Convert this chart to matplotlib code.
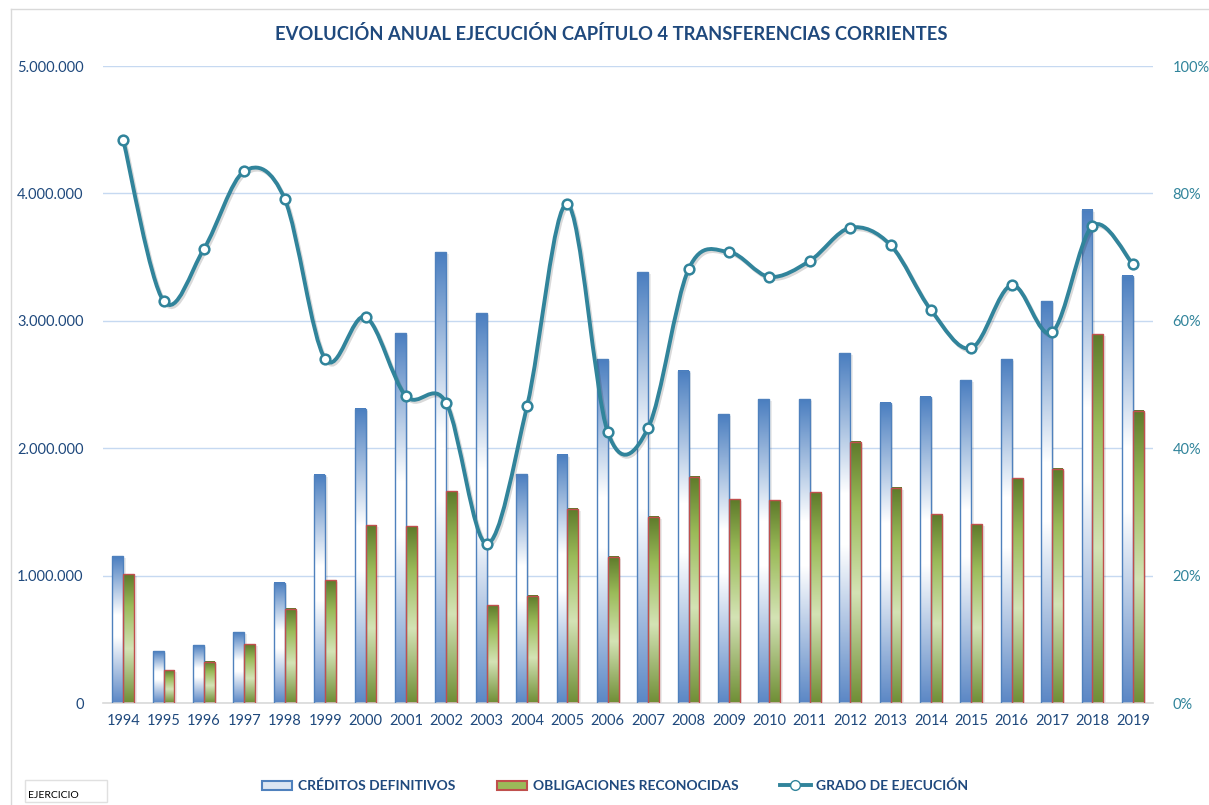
import numpy as np
import matplotlib
matplotlib.use("Agg")
import matplotlib.pyplot as plt
from matplotlib.colors import LinearSegmentedColormap
from matplotlib.path import Path
from matplotlib.patches import PathPatch, Rectangle, Patch
from matplotlib.lines import Line2D
from matplotlib.ticker import FuncFormatter, MultipleLocator
import matplotlib.patheffects as pe

plt.rcParams['font.family'] = ['Lato', 'DejaVu Sans']

years = [str(y) for y in range(1994, 2020)]
creditos = [1150000, 408000, 455000, 557000, 942000, 1790000, 2308000, 2904000,
            3540000, 3061000, 1797000, 1947000, 2700000, 3383000, 2606000, 2268000,
            2386000, 2386000, 2747000, 2355000, 2402000, 2535000, 2700000, 3155000,
            3870000, 3352000]
obligaciones = [1012000, 259000, 322000, 463000, 738000, 965000, 1397000, 1389000,
                1664000, 769000, 840000, 1523000, 1146000, 1460000, 1774000, 1601000,
                1593000, 1656000, 2049000, 1688000, 1483000, 1405000, 1766000, 1837000,
                2896000, 2292000]
grado = [0.884, 0.631, 0.713, 0.835, 0.791, 0.540, 0.606, 0.482, 0.471, 0.250,
         0.466, 0.783, 0.425, 0.432, 0.681, 0.708, 0.669, 0.694, 0.746, 0.719,
         0.617, 0.557, 0.656, 0.582, 0.749, 0.689]

title = "EVOLUCIÓN ANUAL EJECUCIÓN CAPÍTULO 4 TRANSFERENCIAS CORRIENTES"
labels = ["CRÉDITOS DEFINITIVOS", "OBLIGACIONES RECONOCIDAS", "GRADO DE EJECUCIÓN"]

W, H = 1209, 805
fig = plt.figure(figsize=(W / 100, H / 100), dpi=100)
fig.patch.set_facecolor('white')

ax = fig.add_axes([103 / W, 1 - 703 / H, (1153 - 103) / W, (703 - 66) / H])
ax.set_facecolor('none')

n = len(years)
x = np.arange(n)
bw = 0.27

blue_cmap = LinearSegmentedColormap.from_list(
    'b', [(0.0, '#5B87C5'), (0.45, '#FFFFFF'), (0.6, '#FFFFFF'), (1.0, '#4A7EC0')])
green_cmap = LinearSegmentedColormap.from_list(
    'g', [(0.0, '#6F8E35'), (0.42, '#D4E3B5'), (0.75, '#9BBB59'), (1.0, '#5E7A2A')])
grad = np.linspace(0, 1, 256).reshape(-1, 1)

for i in range(n):
    for val, off in ((creditos[i], -bw), (obligaciones[i], 0)):
        ax.add_patch(Rectangle((i + off + 0.06, 0), bw, val - 15000,
                               facecolor='#000000', alpha=0.08, edgecolor='none', zorder=1))
    x0 = i - bw
    ax.imshow(grad, extent=[x0, x0 + bw, 0, creditos[i]], origin='lower',
              cmap=blue_cmap, aspect='auto', zorder=2, interpolation='bilinear')
    ax.add_patch(Rectangle((x0, 0), bw, creditos[i], facecolor='none',
                           edgecolor='#4F81BD', linewidth=1.0, zorder=3))
    x1 = i
    ax.imshow(grad, extent=[x1, x1 + bw, 0, obligaciones[i]], origin='lower',
              cmap=green_cmap, aspect='auto', zorder=2, interpolation='bilinear')
    ax.add_patch(Rectangle((x1, 0), bw, obligaciones[i], facecolor='none',
                           edgecolor='#C0504D', linewidth=1.0, zorder=3))

ax.set_xlim(-0.5, n - 0.5)
ax.set_ylim(0, 5000000)
ax.yaxis.set_major_locator(MultipleLocator(1000000))
ax.yaxis.set_major_formatter(FuncFormatter(lambda v, p: f"{int(v):,}".replace(",", ".")))
ax.set_xticks(x)
ax.set_xticklabels(years)
ax.grid(axis='y', color='#C6D9F1', linewidth=1.0, zorder=0)
ax.set_axisbelow(True)
for s in ['top', 'right', 'left']:
    ax.spines[s].set_visible(False)
ax.spines['bottom'].set_color('#D9D9D9')
ax.spines['bottom'].set_linewidth(1.2)
ax.tick_params(axis='both', length=0, labelsize=10.5, colors='#1F497D')
ax.tick_params(axis='y', pad=14)
ax.tick_params(axis='x', pad=8)

ax2 = ax.twinx()
ax2.set_ylim(0, 1)
ax2.set_xlim(-0.5, n - 0.5)
ax2.yaxis.set_major_locator(MultipleLocator(0.2))
ax2.yaxis.set_major_formatter(FuncFormatter(lambda v, p: f"{v*100:.0f}%"))
for s in ax2.spines.values():
    s.set_visible(False)
ax2.tick_params(axis='y', length=0, labelsize=10.5, colors='#31849B', pad=14)

pts = np.column_stack([x, grado])
verts = [pts[0]]
codes = [Path.MOVETO]
for i in range(n - 1):
    p0 = pts[i - 1] if i > 0 else pts[i]
    p1 = pts[i]
    p2 = pts[i + 1]
    p3 = pts[i + 2] if i + 2 < n else pts[i + 1]
    c1 = p1 + (p2 - p0) / 6.0
    c2 = p2 - (p3 - p1) / 6.0
    verts += [c1, c2, p2]
    codes += [Path.CURVE4] * 3
path = Path(verts, codes)
lc = '#31849B'
ax2.add_patch(PathPatch(path, facecolor='none', edgecolor=lc, linewidth=2.8, zorder=4,
                        path_effects=[pe.SimpleLineShadow(offset=(1.2, -1.5), alpha=0.15),
                                      pe.Normal()]))
ax2.plot(x, grado, linestyle='none', marker='o', markersize=7, markerfacecolor='white',
         markeredgecolor=lc, markeredgewidth=1.8, zorder=5)

fig.text(611 / W, 1 - 34 / H, title, ha='center', va='center', fontsize=13.2,
         fontweight='bold', color='#1F497D')

handles = [Patch(facecolor='#DCE6F2', edgecolor='#4F81BD', linewidth=1.5),
           Patch(facecolor='#9BBB59', edgecolor='#C0504D', linewidth=1.5),
           Line2D([0], [0], color=lc, linewidth=2.8, marker='o', markersize=7,
                  markerfacecolor='white', markeredgecolor=lc)]
leg = fig.legend(handles, labels, loc='center', bbox_to_anchor=(615 / W, 1 - 786 / H),
                 ncol=3, frameon=False, fontsize=10, columnspacing=3.0,
                 handlelength=2.2, handletextpad=0.4)
for t in leg.get_texts():
    t.set_color('#1F497D')
    t.set_fontweight('bold')

fig.patches.append(Rectangle((25 / W, 1 - 802 / H), 82 / W, 22 / H, transform=fig.transFigure,
                             facecolor='white', edgecolor='#E0E0E0', linewidth=1))
fig.text(28 / W, 1 - 795 / H, "EJERCICIO", ha='left', va='center', fontsize=7.5, color='black')

fig.lines.append(Line2D([11 / W, 11 / W], [0, 1 - 9 / H], transform=fig.transFigure,
                        color='#D9D9D9', linewidth=1))
fig.lines.append(Line2D([11 / W, 1], [1 - 9 / H, 1 - 9 / H], transform=fig.transFigure,
                        color='#D9D9D9', linewidth=1))

fig.savefig('out.png', dpi=100)
